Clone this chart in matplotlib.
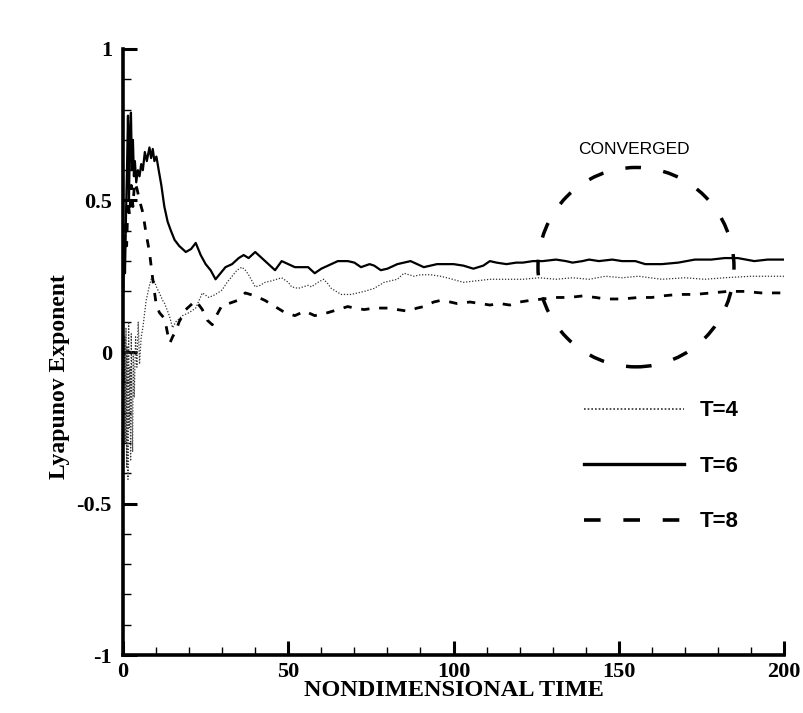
import matplotlib
matplotlib.use("Agg")
import matplotlib.pyplot as plt
from matplotlib.lines import Line2D
from matplotlib.patches import Ellipse
from matplotlib.ticker import MultipleLocator

SERIF = ["Liberation Serif", "DejaVu Serif"]
SANS = ["Liberation Sans", "DejaVu Sans"]

# T=4 (dotted)
t4 = [0.1, 0.3, 0.5, 0.7, 0.9, 1.1, 1.3, 1.5, 1.7, 1.9, 2.1, 2.3, 2.5, 2.7, 2.9, 3.1, 3.4, 3.8,
      4.2, 4.6, 5.0, 5.5, 6.0, 7.0, 8.0, 8.8, 9.6, 10.3, 11.0, 12.0, 12.6, 13.3, 14.0, 15.0, 16.0,
      17.0, 18.0, 20.0, 22.0, 23.0, 24.0, 26.0, 28.0, 30.0, 31.5, 33.0, 34.5, 36.0, 37.0, 38.0,
      40.0, 41.5, 43.0, 45.0, 48.0, 50.0, 51.0, 53.0, 56.0, 57.0, 59.0, 60.7, 62.0, 63.0, 66.0,
      69.0, 71.0, 73.0, 76.0, 79.0, 83.0, 85.0, 88.0, 90.0, 93.0, 96.0, 98.0, 103.0, 107.0, 111.0,
      116.0, 121.0, 126.0, 131.0, 136.0, 141.0, 146.0, 151.0, 156.0, 163.0, 170.0, 176.0, 182.0,
      190.0, 198.0, 200.0]
v4 = [-0.05, -0.1, 0.05, -0.3, 0.08, -0.38, 0.02, -0.42, 0.1, -0.25, -0.05, -0.36, 0.06, -0.2,
      -0.33, 0.0, -0.15, 0.05, -0.05, 0.1, -0.04, 0.05, 0.08, 0.17, 0.22, 0.25, 0.23, 0.21, 0.195,
      0.17, 0.16, 0.14, 0.12, 0.08, 0.1, 0.11, 0.12, 0.13, 0.145, 0.17, 0.195, 0.18, 0.19, 0.205,
      0.23, 0.25, 0.27, 0.28, 0.27, 0.255, 0.215, 0.22, 0.23, 0.235, 0.245, 0.23, 0.215, 0.21,
      0.22, 0.215, 0.23, 0.24, 0.225, 0.21, 0.19, 0.19, 0.195, 0.2, 0.21, 0.23, 0.24, 0.26, 0.25,
      0.255, 0.255, 0.25, 0.245, 0.23, 0.235, 0.24, 0.24, 0.24, 0.245, 0.24, 0.245, 0.24, 0.25,
      0.245, 0.25, 0.24, 0.245, 0.24, 0.245, 0.25, 0.25, 0.25]

# T=6 (solid)
t6 = [0.1, 0.3, 0.6, 0.9, 1.2, 1.5, 1.8, 2.1, 2.4, 2.7, 3.0, 3.3, 3.6, 4.0, 4.5, 5.0, 5.5, 6.0,
      6.6, 7.2, 8.0, 8.5, 9.0, 9.5, 10.1, 10.8, 11.6, 12.5, 13.5, 14.5, 15.6, 17.0, 18.0, 19.0,
      20.6, 22.0, 23.5, 25.0, 26.5, 28.0, 29.5, 31.0, 33.0, 35.0, 36.5, 38.0, 40.0, 42.0, 44.0,
      46.0, 48.0, 50.0, 52.0, 56.0, 58.0, 60.0, 63.0, 65.0, 68.0, 70.0, 72.0, 74.6, 76.0, 78.0,
      80.0, 83.0, 85.0, 87.0, 89.0, 91.0, 93.0, 95.0, 98.0, 100.0, 103.0, 106.0, 109.0, 111.0,
      113.0, 116.0, 119.0, 121.0, 124.0, 127.0, 131.0, 134.0, 136.0, 139.0, 141.0, 144.0, 148.0,
      151.0, 155.0, 158.0, 163.0, 168.0, 173.0, 178.0, 182.0, 186.0, 191.0, 195.0, 200.0]
v6 = [0.2, 0.38, 0.26, 0.45, 0.6, 0.78, 0.5, 0.72, 0.79, 0.6, 0.7, 0.58, 0.63, 0.56, 0.6, 0.58,
      0.62, 0.6, 0.66, 0.63, 0.675, 0.64, 0.67, 0.63, 0.645, 0.6, 0.55, 0.48, 0.43, 0.4, 0.37,
      0.35, 0.34, 0.33, 0.34, 0.36, 0.32, 0.29, 0.27, 0.24, 0.26, 0.28, 0.29, 0.31, 0.32, 0.31,
      0.33, 0.31, 0.29, 0.27, 0.3, 0.29, 0.28, 0.28, 0.26, 0.275, 0.29, 0.3, 0.3, 0.295, 0.28,
      0.29, 0.285, 0.27, 0.275, 0.29, 0.295, 0.3, 0.29, 0.28, 0.285, 0.29, 0.29, 0.29, 0.285,
      0.275, 0.285, 0.3, 0.295, 0.29, 0.295, 0.295, 0.3, 0.3, 0.305, 0.3, 0.295, 0.3, 0.305, 0.3,
      0.305, 0.3, 0.3, 0.29, 0.29, 0.295, 0.305, 0.305, 0.31, 0.31, 0.3, 0.305, 0.305]

# T=8 (dashed)
t8 = [0.3, 0.7, 1.1, 1.5, 2.0, 2.5, 3.0, 3.5, 4.2, 5.0, 6.0, 7.0, 8.0, 9.0, 10.0, 11.0, 12.6,
      13.5, 14.2, 15.0, 16.0, 17.0, 18.0, 19.0, 21.0, 22.0, 23.0, 24.0, 25.5, 27.0, 28.0, 30.0,
      32.0, 34.6, 37.0, 40.0, 43.0, 46.0, 49.0, 52.0, 55.0, 58.0, 62.0, 65.0, 68.0, 70.0, 73.0,
      76.0, 80.0, 83.0, 86.0, 89.0, 91.0, 94.0, 96.0, 99.0, 101.0, 105.0, 108.0, 111.0, 114.0,
      117.0, 120.0, 123.0, 127.0, 131.0, 135.0, 139.0, 143.0, 146.0, 151.0, 156.0, 160.0, 163.0,
      168.0, 173.0, 178.0, 183.0, 188.0, 193.0, 198.0, 200.0]
v8 = [0.3, 0.42, 0.35, 0.5, 0.45, 0.55, 0.48, 0.56, 0.54, 0.5, 0.46, 0.39, 0.33, 0.24, 0.16,
      0.13, 0.11, 0.06, 0.03, 0.05, 0.07, 0.1, 0.12, 0.14, 0.16, 0.17, 0.155, 0.14, 0.105, 0.09,
      0.115, 0.155, 0.16, 0.17, 0.195, 0.185, 0.17, 0.15, 0.13, 0.12, 0.135, 0.12, 0.13, 0.14,
      0.15, 0.145, 0.14, 0.145, 0.145, 0.14, 0.135, 0.145, 0.15, 0.165, 0.17, 0.165, 0.16, 0.165,
      0.16, 0.155, 0.16, 0.155, 0.165, 0.17, 0.175, 0.18, 0.18, 0.185, 0.18, 0.175, 0.175, 0.18,
      0.18, 0.185, 0.19, 0.19, 0.195, 0.2, 0.2, 0.195, 0.195, 0.195]

labels = ["T=4", "T=6", "T=8"]

fig = plt.figure(figsize=(8.04, 7.13), dpi=100)
ax = fig.add_axes([0.153, 0.0813, 0.8222, 0.85])

ax.plot(t4, v4, color="#333333", lw=0.9, linestyle=(0, (1, 1.4)))
ax.plot(t6, v6, color="black", lw=1.6, linestyle="-")
ax.plot(t8, v8, color="black", lw=2.0, linestyle=(0, (3, 3.5)))

# converged marker
circ = Ellipse((155.2, 0.28), 59.3, 0.658, fill=False, edgecolor="black", lw=2.5,
               linestyle=(0, (4.5, 6.5)))
ax.add_patch(circ)
ax.text(154.6, 0.668, "CONVERGED", ha="center", va="center", fontsize=12.5, family=SANS)

ax.set_xlim(0, 200)
ax.set_ylim(-1, 1)
ax.xaxis.set_major_locator(MultipleLocator(50))
ax.xaxis.set_minor_locator(MultipleLocator(10))
ax.yaxis.set_major_locator(MultipleLocator(0.5))
ax.yaxis.set_minor_locator(MultipleLocator(0.1))
ax.xaxis.set_major_formatter(plt.FuncFormatter(lambda v, p: f"{v:g}"))
ax.yaxis.set_major_formatter(plt.FuncFormatter(lambda v, p: f"{v:g}"))

for side in ("top", "right"):
    ax.spines[side].set_visible(False)
for side in ("left", "bottom"):
    ax.spines[side].set_linewidth(2.6)

ax.tick_params(which="major", direction="in", length=10, width=2.2)
ax.tick_params(axis="x", which="major", pad=5)
ax.tick_params(axis="y", which="major", pad=8)
ax.tick_params(which="minor", direction="in", length=6, width=1.0)
for lab in ax.get_xticklabels() + ax.get_yticklabels():
    lab.set_family(SERIF)
    lab.set_fontweight("bold")
    lab.set_fontsize(16)

ax.set_xlabel("NONDIMENSIONAL TIME", family=SERIF, fontweight="bold", fontsize=17.5)
ax.set_ylabel("Lyapunov Exponent", family=SERIF, fontweight="bold", fontsize=17)
ax.xaxis.set_label_coords(0.5, -0.042)
ax.yaxis.set_label_coords(-0.08, 0.46)

handles = [
    Line2D([], [], color="#333333", lw=1.2, linestyle=(0, (1, 1.2))),
    Line2D([], [], color="black", lw=2.4, linestyle="-"),
    Line2D([], [], color="black", lw=2.6, linestyle=(0, (4.6, 6.3))),
]
ax.legend(handles, labels, loc="upper left", bbox_to_anchor=(0.697, 0.42),
          frameon=False, borderpad=0, borderaxespad=0, handlelength=4.5,
          handletextpad=0.7, labelspacing=1.55,
          prop={"family": SANS, "weight": "bold", "size": 16})

fig.savefig("out.png", dpi=100)
